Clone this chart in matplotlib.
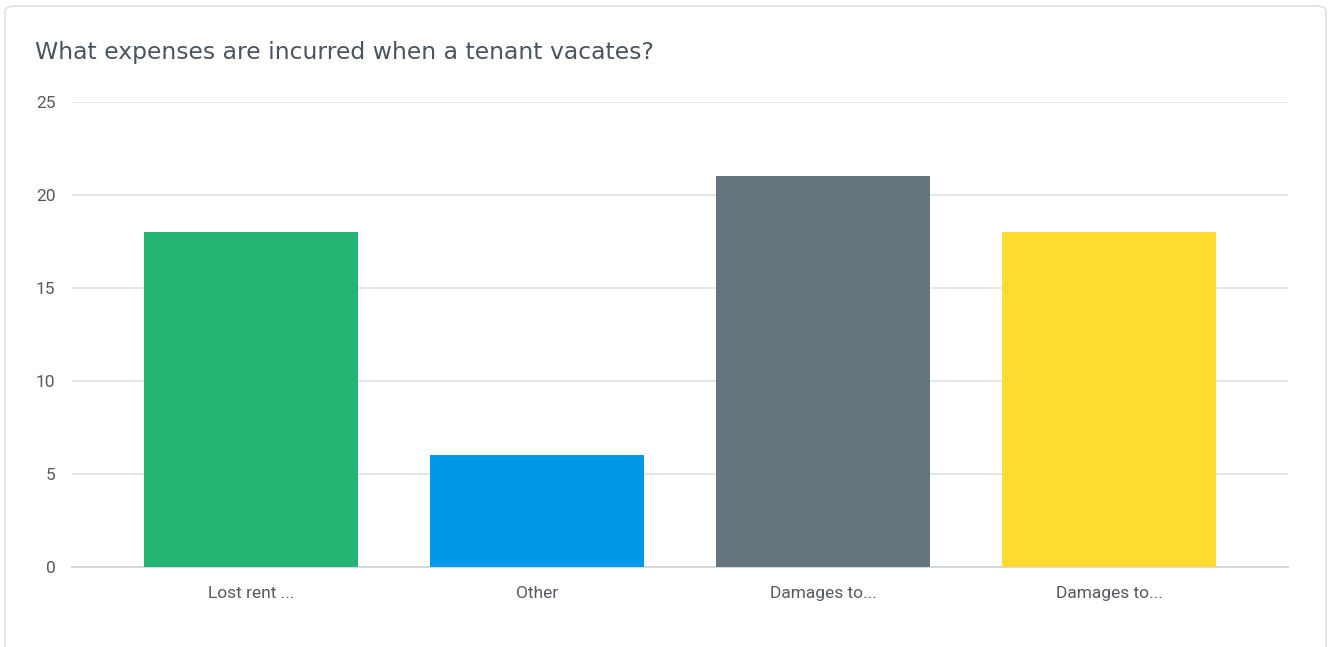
import matplotlib.pyplot as plt
from matplotlib.patches import FancyBboxPatch

categories = ["Lost rent ...", "Other", "Damages to...", "Damages to..."]
counts = [18, 6, 21, 18]
colors = ["#22b573", "#0099ea", "#66757d", "#ffda31"]
yticks = [0, 5, 10, 15, 20, 25]

fig = plt.figure(figsize=(13.28, 6.47), dpi=100)

# card outline
card = FancyBboxPatch((5 / 1328, -0.05), 1321 / 1328, 1 - 6 / 647 + 0.05,
                      boxstyle="round,pad=0,rounding_size=0.008",
                      transform=fig.transFigure, facecolor="white",
                      edgecolor="#dde1e5", linewidth=1.2, zorder=-5)
fig.patches.append(card)

fig.text(35 / 1328, 1 - 52 / 647, "What expenses are incurred when a tenant vacates?",
         fontsize=16.9, color="#4a5560", family="DejaVu Sans", va="center", ha="left")

ax = fig.add_axes([72 / 1328, 1 - 567 / 647, 1216 / 1328, 465 / 647], zorder=2)
ax.patch.set_alpha(0)
x = range(len(categories))
ax.bar(x, counts, width=0.75, color=colors, zorder=3)
ax.set_xlim(-0.626, 3.626)
ax.set_ylim(0, 25)
ax.set_yticks(yticks)
ax.set_xticks(list(x))
ax.set_xticklabels(categories)
ax.grid(axis="y", color="#dfe2e5", linewidth=1.2, zorder=0)
for s in ["top", "right", "left"]:
    ax.spines[s].set_visible(False)
ax.spines["bottom"].set_color("#d5d9dd")
ax.spines["bottom"].set_linewidth(1.5)
ax.tick_params(length=0, labelsize=12.5, colors="#555b61")
ax.tick_params(axis="y", pad=12)
ax.tick_params(axis="x", pad=14)
for lbl in ax.get_xticklabels() + ax.get_yticklabels():
    lbl.set_family("Roboto")

fig.savefig("out.png", dpi=100)
